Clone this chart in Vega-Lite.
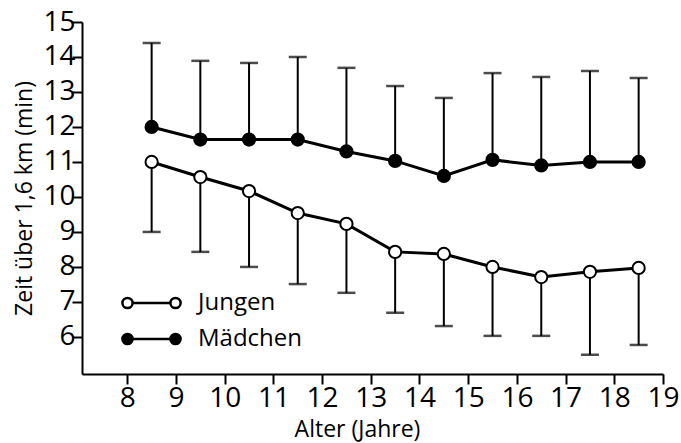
{
  "$schema": "https://vega.github.io/schema/vega-lite/v6.json",
  "autosize": "none",
  "width": 581,
  "height": 352,
  "padding": {"left": 82, "top": 22, "right": 18, "bottom": 69},
  "background": "white",
  "config": {
    "font": "Open Sans",
    "view": {"stroke": null},
    "axis": {
      "grid": false,
      "domainColor": "black",
      "domainWidth": 2,
      "tickColor": "black",
      "tickWidth": 2,
      "tickSize": 10,
      "labelColor": "black",
      "labelFontSize": 28,
      "labelOverlap": false,
      "labelFlush": false,
      "titleColor": "black",
      "titleFontSize": 23,
      "titleFontWeight": "normal"
    }
  },
  "data": {
    "values": [
      {"alter": 8.5, "gruppe": "Jungen", "mittel": 11.0, "grenze": 9.0},
      {"alter": 9.5, "gruppe": "Jungen", "mittel": 10.57, "grenze": 8.43},
      {"alter": 10.5, "gruppe": "Jungen", "mittel": 10.17, "grenze": 8.0},
      {"alter": 11.5, "gruppe": "Jungen", "mittel": 9.54, "grenze": 7.51},
      {"alter": 12.5, "gruppe": "Jungen", "mittel": 9.23, "grenze": 7.26},
      {"alter": 13.5, "gruppe": "Jungen", "mittel": 8.43, "grenze": 6.69},
      {"alter": 14.5, "gruppe": "Jungen", "mittel": 8.37, "grenze": 6.31},
      {"alter": 15.5, "gruppe": "Jungen", "mittel": 8.0, "grenze": 6.03},
      {"alter": 16.5, "gruppe": "Jungen", "mittel": 7.71, "grenze": 6.03},
      {"alter": 17.5, "gruppe": "Jungen", "mittel": 7.86, "grenze": 5.49},
      {"alter": 18.5, "gruppe": "Jungen", "mittel": 7.97, "grenze": 5.77},
      {"alter": 8.5, "gruppe": "Mädchen", "mittel": 12.0, "grenze": 14.4},
      {"alter": 9.5, "gruppe": "Mädchen", "mittel": 11.64, "grenze": 13.89},
      {"alter": 10.5, "gruppe": "Mädchen", "mittel": 11.64, "grenze": 13.83},
      {"alter": 11.5, "gruppe": "Mädchen", "mittel": 11.64, "grenze": 14.0},
      {"alter": 12.5, "gruppe": "Mädchen", "mittel": 11.3, "grenze": 13.69},
      {"alter": 13.5, "gruppe": "Mädchen", "mittel": 11.03, "grenze": 13.17},
      {"alter": 14.5, "gruppe": "Mädchen", "mittel": 10.6, "grenze": 12.83},
      {"alter": 15.5, "gruppe": "Mädchen", "mittel": 11.06, "grenze": 13.54},
      {"alter": 16.5, "gruppe": "Mädchen", "mittel": 10.9, "grenze": 13.43},
      {"alter": 17.5, "gruppe": "Mädchen", "mittel": 11.0, "grenze": 13.6},
      {"alter": 18.5, "gruppe": "Mädchen", "mittel": 11.0, "grenze": 13.4}
    ]
  },
  "encoding": {
    "x": {
      "field": "alter",
      "type": "quantitative",
      "scale": {"domain": [7.07, 19], "nice": false, "zero": false},
      "axis": {
        "values": [8, 9, 10, 11, 12, 13, 14, 15, 16, 17, 18, 19],
        "title": "Alter (Jahre)",
        "labelFontSize": 28,
        "labelPadding": 0,
        "labelOverlap": false,
        "tickSize": 10,
        "encode": {"ticks": {"enter": {"y2": {"value": -9}}, "update": {"y2": {"value": -9}}}},
        "titleFontSize": 23,
        "titleX": 275,
        "titlePadding": 6
      }
    },
    "y": {
      "field": "mittel",
      "type": "quantitative",
      "scale": {"domain": [4.94, 15], "nice": false, "zero": false},
      "axis": {
        "values": [6, 7, 8, 9, 10, 11, 12, 13, 14, 15],
        "title": "Zeit über 1,6 km (min)",
        "labelFontSize": 28,
        "labelPadding": -3,
        "labelOverlap": false,
        "tickSize": 10,
        "encode": {"ticks": {"enter": {"x2": {"value": 10}}, "update": {"x2": {"value": 10}}}},
        "titleFontSize": 23,
        "titlePadding": 6
      }
    }
  },
  "layer": [
    {
      "mark": {"type": "rule", "color": "black", "strokeWidth": 2},
      "encoding": {
        "y2": {"field": "grenze"}
      }
    },
    {
      "mark": {"type": "tick", "color": "black", "orient": "horizontal", "size": 18, "thickness": 2.5},
      "encoding": {
        "y": {
          "field": "grenze",
          "type": "quantitative",
          "axis": {
            "values": [6, 7, 8, 9, 10, 11, 12, 13, 14, 15],
            "title": "Zeit über 1,6 km (min)",
            "labelFontSize": 28,
            "labelPadding": -3,
            "labelOverlap": false,
            "tickSize": 10,
            "encode": {"ticks": {"enter": {"x2": {"value": 10}}, "update": {"x2": {"value": 10}}}},
            "titleFontSize": 23,
            "titlePadding": 6
          }
        }
      }
    },
    {
      "mark": {"type": "line", "color": "black", "strokeWidth": 3},
      "encoding": {
        "detail": {"field": "gruppe"}
      }
    },
    {
      "mark": {"type": "point", "filled": true, "shape": "circle", "size": 150, "stroke": "black", "strokeWidth": 2, "opacity": 1},
      "encoding": {
        "fill": {
          "field": "gruppe",
          "type": "nominal",
          "scale": {"domain": ["Jungen", "Mädchen"], "range": ["white", "black"]},
          "legend": {
            "title": null,
            "orient": "none",
            "legendX": 38,
            "legendY": 266,
            "symbolType": "M -0.97 0 A 0.17 0.17 0 1 0 -0.63 0 A 0.17 0.17 0 1 0 -0.97 0 Z M -0.63 0 L 0.63 0 M 0.63 0 A 0.17 0.17 0 1 0 0.97 0 A 0.17 0.17 0 1 0 0.63 0 Z",
            "symbolSize": 3600,
            "symbolStrokeColor": "black",
            "symbolStrokeWidth": 2.5,
            "symbolOpacity": 1,
            "labelFontSize": 24,
            "labelColor": "black",
            "labelOffset": 15,
            "clipHeight": 30,
            "rowPadding": 6
          }
        }
      }
    }
  ]
}
